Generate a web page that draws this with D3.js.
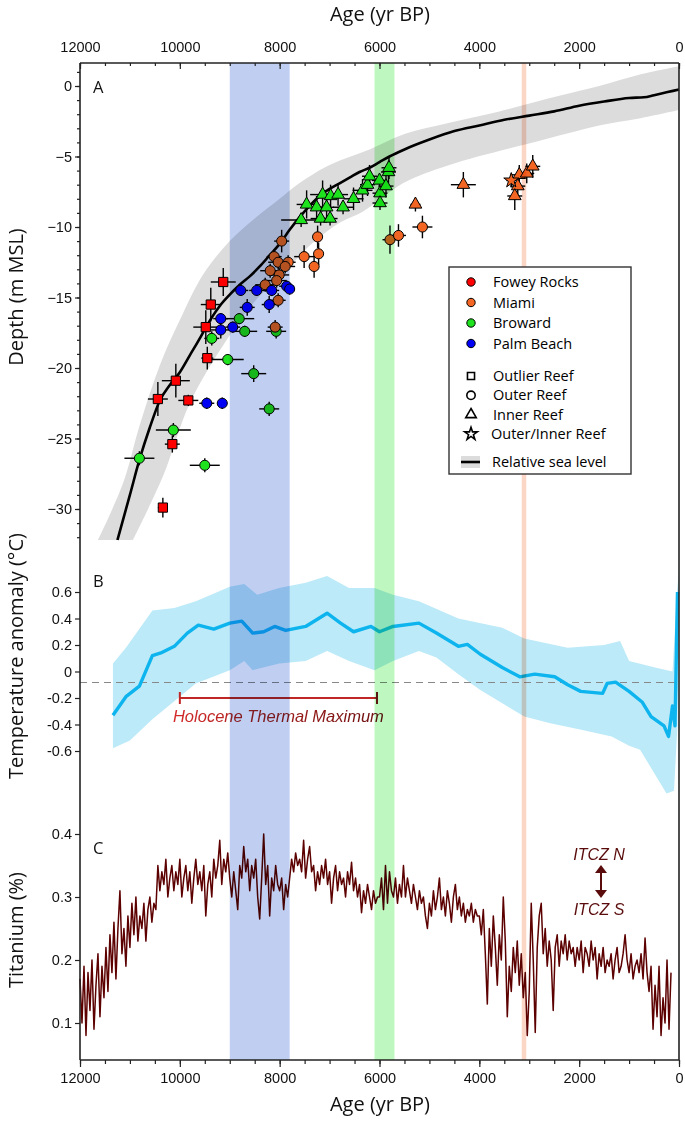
<!DOCTYPE html>
<html>
<head>
<meta charset="utf-8">
<script src="https://cdn.jsdelivr.net/npm/d3@7"></script>
<style>
  body { margin: 0; background: #fff; }
  svg { font-family: 'Open Sans', sans-serif; }
</style>
</head>
<body>
<div id="chart"></div>
<script>
// ---- data ----
// event bands (yr BP, older -> younger)
const eventBands = [[9000, 7800], [6100, 5700], [3150, 3060]];

// relative sea level curve [age, depth m]
const slCurve = [
  [11250, -32.2], [11000, -29.0], [10800, -26.4], [10600, -24.2], [10400, -22.3],
  [10200, -21.2], [10000, -20.3], [9800, -19.1], [9600, -17.9], [9476, -17.1],
  [9200, -15.6], [9000, -14.8], [8800, -14.1], [8600, -13.5], [8400, -12.8],
  [8200, -12.0], [8000, -11.2], [7800, -10.2], [7600, -9.3], [7400, -8.5],
  [7200, -7.8], [7000, -7.3], [6800, -6.9], [6600, -6.5], [6400, -6.1],
  [6200, -5.8], [6000, -5.4], [5800, -5.0], [5500, -4.5], [5000, -3.8],
  [4500, -3.2], [4000, -2.8], [3500, -2.4], [3000, -2.1], [2500, -1.8],
  [2000, -1.4], [1500, -1.1], [1000, -0.85], [700, -0.8], [500, -0.65],
  [250, -0.45], [0, -0.25],
];
// sea level uncertainty envelope edges [age, depth]
const slUpper = [
  [11640, -32.2], [11140, -28.2], [10800, -24.0], [10400, -19.8], [10000, -16.6],
  [9540, -13.4], [9000, -11.0], [8500, -9.4], [8000, -8.0], [7650, -7.0],
  [7000, -5.6], [6200, -4.5], [5500, -3.4], [4600, -2.6], [3600, -1.8],
  [2400, -0.7], [1600, 0.0], [800, 0.8], [0, 1.4],
];
const slLower = [
  [10940, -32.2], [10340, -27.7], [9800, -22.5], [9060, -18.0], [8530, -15.4],
  [7800, -12.8], [7330, -11.1], [6800, -9.7], [6330, -8.9], [5530, -6.9],
  [4600, -5.6], [2700, -3.8], [1600, -2.8], [800, -2.3], [0, -1.7],
];

// reef samples [age, depth, ageErr, depthErr]
const foweyOutlier = [
  [9130, -13.9, 250, 1.0], [9380, -15.5, 200, 1.2], [9480, -17.1, 250, 1.2],
  [9450, -19.3, 120, 0.8], [10080, -20.9, 280, 1.2], [10440, -22.2, 200, 1.2],
  [9830, -22.3, 200, 0.4], [10150, -25.4, 150, 0.6], [10340, -29.9, 100, 0.7],
];
const palmOuter = [
  [8780, -14.5, 150, 0.4], [8460, -14.5, 150, 0.4], [8160, -14.5, 150, 0.4],
  [7860, -14.2, 150, 0.4], [7800, -14.4, 100, 0.4], [8650, -15.7, 150, 0.6],
  [8210, -15.5, 150, 0.6], [9180, -16.5, 150, 0.4], [9180, -17.3, 200, 0.6],
  [8940, -17.1, 150, 0.4], [9460, -22.5, 150, 0.4], [9150, -22.5, 100, 0.4],
];
const browardOuter = [
  [8810, -16.5, 300, 0.4], [8700, -17.4, 250, 0.4], [9360, -17.9, 150, 0.5],
  [9040, -19.4, 320, 0.4], [8520, -20.4, 250, 0.6], [8070, -17.4, 200, 0.5],
  [8210, -22.9, 200, 0.5], [10130, -24.4, 350, 0.5], [10810, -26.4, 300, 0.5],
  [9500, -26.9, 300, 0.5],
];
const browardInner = [
  [7570, -9.5, 400, 0.5], [7460, -8.4, 200, 1.0], [7260, -8.6, 200, 0.8],
  [7180, -9.4, 200, 0.5], [6990, -9.4, 150, 0.5], [7140, -7.7, 250, 1.0],
  [7060, -8.6, 150, 0.8], [6980, -7.8, 200, 0.8], [6830, -7.7, 200, 0.8],
  [6730, -8.6, 200, 0.5], [6520, -8.0, 200, 0.8], [6340, -7.4, 200, 0.8],
  [6240, -7.0, 150, 0.8], [6200, -6.4, 150, 0.8], [6000, -6.7, 150, 0.5],
  [5990, -7.6, 150, 0.5], [5990, -8.3, 150, 0.5], [5870, -7.1, 150, 0.8],
  [5820, -6.1, 150, 0.8], [5810, -5.8, 150, 0.8],
];
const miamiOuter = [
  [7960, -11.0, 150, 0.8], [7240, -10.7, 100, 0.8], [8110, -12.1, 150, 0.5],
  [8030, -12.5, 200, 0.5], [7830, -12.5, 150, 0.5], [7510, -12.1, 200, 0.8],
  [7220, -11.9, 100, 0.8], [7310, -12.8, 100, 0.8], [8190, -13.1, 200, 0.5],
  [7890, -12.8, 200, 0.5], [8010, -13.4, 200, 0.5], [8060, -13.8, 200, 0.5],
  [8290, -14.1, 200, 0.5], [8030, -15.2, 150, 0.5], [8090, -17.1, 150, 0.5],
  [5790, -10.9, 150, 1.0], [5620, -10.6, 150, 0.8], [5140, -10.0, 200, 0.8],
];
const miamiInner = [
  [5280, -8.4, 100, 0.5], [4320, -7.0, 250, 0.9], [3200, -6.3, 150, 0.7],
  [3050, -6.2, 150, 0.7], [2930, -5.7, 150, 0.8], [3230, -7.1, 150, 0.7],
  [3290, -7.8, 150, 1.0],
];
const miamiOuterInner = [[3360, -6.7, 100, 0.5]];

// temperature anomaly [age, degC]
const tempMean = [
  [11340, -0.33], [11080, -0.19], [10810, -0.11], [10550, 0.12], [10380, 0.14],
  [10110, 0.19], [9850, 0.29], [9630, 0.35], [9320, 0.32], [9000, 0.365],
  [8760, 0.38], [8540, 0.29], [8320, 0.30], [8100, 0.34], [7880, 0.31],
  [7480, 0.34], [7050, 0.44], [6780, 0.365], [6520, 0.30], [6170, 0.34],
  [6000, 0.30], [5730, 0.34], [5210, 0.365], [4860, 0.29], [4420, 0.19],
  [4240, 0.205], [3980, 0.13], [3540, 0.03], [3190, -0.04], [2890, -0.02],
  [2490, -0.04], [2230, -0.10], [1970, -0.15], [1530, -0.165], [1440, -0.09],
  [1270, -0.08], [1000, -0.15], [740, -0.23], [560, -0.34], [300, -0.41],
  [210, -0.49], [130, -0.26], [80, -0.41], [30, 0.6],
];
const tempUpper = [
  [11340, 0.06], [11080, 0.18], [10550, 0.46], [10110, 0.48], [9680, 0.53],
  [9000, 0.64], [8710, 0.66], [8450, 0.58], [8010, 0.63], [7480, 0.67],
  [7050, 0.72], [6610, 0.63], [6100, 0.63], [5730, 0.58], [5210, 0.53],
  [4420, 0.40], [3540, 0.33], [3100, 0.25], [2230, 0.18], [1500, 0.20],
  [1180, 0.23], [1000, 0.08], [480, 0.03], [130, 0.0], [40, 0.6], [0, 0.77],
];
const tempLower = [
  [11340, -0.58], [11000, -0.52], [10550, -0.36], [10100, -0.22], [9680, -0.09],
  [9000, 0.01], [8710, 0.08], [8540, 0.01], [8010, 0.06], [7480, 0.08],
  [7050, 0.155], [6610, 0.08], [6100, 0.01], [5730, 0.08], [5210, 0.155],
  [4860, 0.105], [4420, -0.02], [3980, -0.14], [3540, -0.24], [3100, -0.34],
  [2580, -0.39], [1960, -0.44], [1350, -0.49], [1000, -0.56], [780, -0.59],
  [380, -0.84], [250, -0.92], [100, -0.9], [30, -0.4], [0, 0.55],
];
const tempRef = -0.083;            // dashed reference level
const htmSpan = [10000, 6050];      // Holocene Thermal Maximum

// titanium (%) sampled every 40 yr from 12000 yr BP
const tiStartAge = 12000;
const tiStep = 40;
const tiValues = [
  0.17, 0.10, 0.19, 0.08, 0.18, 0.12, 0.20, 0.09, 0.16, 0.21, 0.11, 0.19, 0.14, 0.22, 0.15, 0.24, 0.18, 0.26, 0.17, 0.25, 0.31, 0.21, 0.25, 0.19, 0.27,
  0.22, 0.29, 0.24, 0.30, 0.23, 0.27, 0.25, 0.29, 0.23, 0.28, 0.30, 0.26, 0.29, 0.28, 0.35, 0.31, 0.34, 0.32, 0.36, 0.30, 0.33, 0.35, 0.31, 0.34, 0.32,
  0.36, 0.30, 0.33, 0.35, 0.31, 0.34, 0.29, 0.33, 0.36, 0.32, 0.34, 0.31, 0.35, 0.27, 0.32, 0.34, 0.30, 0.36, 0.33, 0.35, 0.39, 0.32, 0.36, 0.34, 0.37,
  0.33, 0.30, 0.34, 0.31, 0.28, 0.35, 0.33, 0.38, 0.34, 0.36, 0.31, 0.35, 0.33, 0.36, 0.30, 0.265, 0.33, 0.40, 0.32, 0.35, 0.27, 0.33, 0.31, 0.35, 0.32,
  0.31, 0.33, 0.28, 0.32, 0.30, 0.33, 0.36, 0.34, 0.37, 0.35, 0.36, 0.34, 0.39, 0.33, 0.36, 0.38, 0.34, 0.35, 0.31, 0.34, 0.32, 0.35, 0.33, 0.36, 0.32,
  0.34, 0.29, 0.33, 0.35, 0.31, 0.34, 0.32, 0.33, 0.30, 0.34, 0.32, 0.355, 0.31, 0.33, 0.30, 0.32, 0.275, 0.31, 0.29, 0.32, 0.30, 0.28, 0.31, 0.29, 0.30,
  0.30, 0.33, 0.28, 0.35, 0.29, 0.34, 0.31, 0.30, 0.33, 0.29, 0.32, 0.30, 0.35, 0.30, 0.33, 0.31, 0.29, 0.32, 0.30, 0.28, 0.31, 0.29, 0.30, 0.27, 0.25,
  0.29, 0.27, 0.31, 0.28, 0.30, 0.33, 0.28, 0.30, 0.27, 0.31, 0.29, 0.26, 0.30, 0.32, 0.28, 0.30, 0.27, 0.29, 0.26, 0.28, 0.27, 0.29, 0.26, 0.28, 0.27,
  0.27, 0.24, 0.28, 0.21, 0.13, 0.25, 0.19, 0.27, 0.22, 0.16, 0.24, 0.20, 0.30, 0.23, 0.11, 0.19, 0.15, 0.22, 0.18, 0.23, 0.16, 0.21, 0.14, 0.18, 0.08,
  0.15, 0.29, 0.20, 0.085, 0.22, 0.27, 0.29, 0.21, 0.25, 0.19, 0.23, 0.20, 0.12, 0.22, 0.24, 0.19, 0.23, 0.21, 0.24, 0.20, 0.23, 0.21, 0.22, 0.19, 0.22,
  0.20, 0.23, 0.18, 0.22, 0.21, 0.19, 0.23, 0.20, 0.22, 0.17, 0.21, 0.19, 0.22, 0.18, 0.20, 0.19, 0.21, 0.17, 0.20, 0.22, 0.18, 0.19, 0.21, 0.24, 0.20,
  0.18, 0.21, 0.17, 0.19, 0.20, 0.18, 0.21, 0.17, 0.235, 0.18, 0.15, 0.19, 0.09, 0.16, 0.11, 0.19, 0.08, 0.14, 0.10, 0.20, 0.09, 0.18,
];

const ageTicks = [12000, 10000, 8000, 6000, 4000, 2000, 0];
const depthTicks = [0, -5, -10, -15, -20, -25, -30];
const tempTicks = [0.6, 0.4, 0.2, 0, -0.2, -0.4, -0.6];
const tiTicks = [0.4, 0.3, 0.2, 0.1];

// ---- layout ----
const width = 685;
const height = 1122;
const plotLeft = 80;
const plotRight = 679;
const plotTop = 63;
const plotBottom = 1060;

const colors = {
  fowey: '#ff0000',
  miami: '#f26522',
  broward: '#1ee21e',
  palm: '#0000f5',
  bands: ['#bfcef1', '#bff7c0', '#fbd5c5'],
  slBand: '#dcdcdc',
  tempBand: '#bdeaf8',
  tempLine: '#0db4ee',
  ti: '#5c0000',
};

const svg = d3.select('#chart').append('svg')
  .attr('width', width)
  .attr('height', height);

const x = d3.scaleLinear().domain([12000, 0]).range([plotLeft, plotRight]);
const yA = d3.scaleLinear().domain([0, -30]).range([86, 509]);
const yB = d3.scaleLinear().domain([0.6, -0.6]).range([592, 751]);
const yC = d3.scaleLinear().domain([0.4, 0.1]).range([834, 1023]);

// closed envelope from two edges
const envelope = (upper, lower, y, curve) => {
  const line = d3.line().x((d) => x(d[0])).y((d) => y(d[1])).curve(curve);
  const a = line(upper.slice().sort((p, q) => q[0] - p[0]));
  const b = line(lower.slice().sort((p, q) => p[0] - q[0]));
  return `${a}L${b.slice(1)}Z`;
};

// ---- panel A ----
const gA = svg.append('g');
gA.append('path')
  .attr('d', envelope(slUpper, slLower, yA, d3.curveCatmullRom))
  .attr('fill', colors.slBand);
gA.append('path')
  .attr('d', d3.line().x((d) => x(d[0])).y((d) => yA(d[1])).curve(d3.curveMonotoneX)(slCurve))
  .attr('fill', 'none')
  .attr('stroke', '#000')
  .attr('stroke-width', 2.6);

const groups = [
  { data: browardOuter, color: colors.broward, symbol: d3.symbolCircle, size: 80 },
  { data: browardInner, color: colors.broward, symbol: d3.symbolTriangle, size: 70 },
  { data: miamiOuter, color: colors.miami, symbol: d3.symbolCircle, size: 80 },
  { data: miamiInner, color: colors.miami, symbol: d3.symbolTriangle, size: 70 },
  { data: miamiOuterInner, color: colors.miami, symbol: d3.symbolStar, size: 70 },
  { data: palmOuter, color: colors.palm, symbol: d3.symbolCircle, size: 80 },
  { data: foweyOutlier, color: colors.fowey, symbol: d3.symbolSquare, size: 85 },
];

const errG = gA.append('g').attr('stroke', '#000').attr('stroke-width', 1.4);
groups.forEach((grp) => {
  errG.selectAll(null).data(grp.data).enter().append('line')
    .attr('x1', (d) => x(d[0] + d[2])).attr('x2', (d) => x(d[0] - d[2]))
    .attr('y1', (d) => yA(d[1])).attr('y2', (d) => yA(d[1]));
  errG.selectAll(null).data(grp.data).enter().append('line')
    .attr('x1', (d) => x(d[0])).attr('x2', (d) => x(d[0]))
    .attr('y1', (d) => yA(d[1] + d[3])).attr('y2', (d) => yA(d[1] - d[3]));
});
groups.forEach((grp) => {
  gA.selectAll(null).data(grp.data).enter().append('path')
    .attr('d', d3.symbol().type(grp.symbol).size(grp.size))
    .attr('transform', (d) => `translate(${x(d[0])},${yA(d[1])})`)
    .attr('fill', grp.color)
    .attr('stroke', '#000')
    .attr('stroke-width', 1);
});

// ---- panel B ----
const gB = svg.append('g');
gB.append('path')
  .attr('d', envelope(tempUpper, tempLower, yB, d3.curveLinear))
  .attr('fill', colors.tempBand);
gB.append('line')
  .attr('x1', plotLeft).attr('x2', plotRight)
  .attr('y1', yB(tempRef)).attr('y2', yB(tempRef))
  .attr('stroke', '#888')
  .attr('stroke-width', 1.2)
  .attr('stroke-dasharray', '7,5');
gB.append('path')
  .attr('d', d3.line().x((d) => x(d[0])).y((d) => yB(d[1]))(tempMean))
  .attr('fill', 'none')
  .attr('stroke', colors.tempLine)
  .attr('stroke-width', 3.4)
  .attr('stroke-linejoin', 'round');

const defs = svg.append('defs');
const grad = defs.append('linearGradient').attr('id', 'htm-grad');
grad.append('stop').attr('offset', '0%').attr('stop-color', '#d42a2a');
grad.append('stop').attr('offset', '100%').attr('stop-color', '#6e1212');

const htmY = yB(-0.2);
const htm = gB.append('g').attr('stroke', '#c02626').attr('stroke-width', 2);
htm.append('line')
  .attr('x1', x(htmSpan[0])).attr('x2', x(htmSpan[1]))
  .attr('y1', htmY).attr('y2', htmY);
htm.append('line')
  .attr('x1', x(htmSpan[0])).attr('x2', x(htmSpan[0]))
  .attr('y1', htmY - 6).attr('y2', htmY + 6);
htm.append('line')
  .attr('x1', x(htmSpan[1])).attr('x2', x(htmSpan[1]))
  .attr('y1', htmY - 6).attr('y2', htmY + 6)
  .attr('stroke', '#7a1616');
gB.append('text')
  .attr('x', (x(htmSpan[0]) + x(htmSpan[1])) / 2)
  .attr('y', htmY + 24)
  .attr('text-anchor', 'middle')
  .attr('font-family', 'Liberation Sans, Arial, sans-serif')
  .attr('font-style', 'italic')
  .attr('font-size', 16.5)
  .attr('fill', 'url(#htm-grad)')
  .text('Holocene Thermal Maximum');

// ---- panel C ----
const tiData = tiValues.map((v, i) => [tiStartAge - i * tiStep, v]);
const gC = svg.append('g');
gC.append('path')
  .attr('d', d3.line().x((d) => x(d[0])).y((d) => yC(d[1]))(tiData))
  .attr('fill', 'none')
  .attr('stroke', colors.ti)
  .attr('stroke-width', 1.5)
  .attr('stroke-linejoin', 'round');

const itcz = gC.append('g').attr('fill', '#5a0c0c')
  .attr('font-family', 'Liberation Sans, Arial, sans-serif')
  .attr('font-style', 'italic')
  .attr('font-size', 16)
  .attr('text-anchor', 'middle');
itcz.append('text').attr('x', 599).attr('y', 860).text('ITCZ N');
itcz.append('text').attr('x', 599).attr('y', 915).text('ITCZ S');
itcz.append('line')
  .attr('x1', 601).attr('x2', 601).attr('y1', 871).attr('y2', 892)
  .attr('stroke', '#5a0c0c').attr('stroke-width', 2);
itcz.append('path').attr('d', 'M595,873L601,865L607,873Z');
itcz.append('path').attr('d', 'M595,890L601,898L607,890Z');

// ---- event bands (multiply over everything) ----
svg.append('g')
  .selectAll('rect').data(eventBands).enter().append('rect')
  .attr('x', (d) => x(d[0]))
  .attr('width', (d) => x(d[1]) - x(d[0]))
  .attr('y', plotTop)
  .attr('height', plotBottom - plotTop)
  .attr('fill', (d, i) => colors.bands[i])
  .style('mix-blend-mode', 'multiply');

// ---- legend ----
const leg = svg.append('g').attr('transform', 'translate(449,267)');
leg.append('rect')
  .attr('width', 182).attr('height', 207)
  .attr('fill', '#fff').attr('stroke', '#333').attr('stroke-width', 1.4);
const siteRows = [
  ['Fowey Rocks', colors.fowey], ['Miami', colors.miami],
  ['Broward', colors.broward], ['Palm Beach', colors.palm],
];
siteRows.forEach((r, i) => {
  const yy = 15 + i * 20.5;
  leg.append('circle').attr('cx', 22).attr('cy', yy).attr('r', 4.2)
    .attr('fill', r[1]).attr('stroke', '#000').attr('stroke-width', 1);
  leg.append('text').attr('x', 44).attr('y', yy + 5).attr('font-size', 14.5).text(r[0]);
});
const shapeRows = [
  ['Outlier Reef', d3.symbolSquare, 50], ['Outer Reef', d3.symbolCircle, 55],
  ['Inner Reef', d3.symbolTriangle, 48], ['Outer/Inner Reef', d3.symbolStar, 50],
];
shapeRows.forEach((r, i) => {
  const yy = 109 + i * 19.3;
  leg.append('path').attr('d', d3.symbol().type(r[1]).size(r[2]))
    .attr('transform', `translate(22,${yy})`)
    .attr('fill', '#fff').attr('stroke', '#000').attr('stroke-width', 1.6);
  leg.append('text').attr('x', i === 3 ? 42 : 44).attr('y', yy + 5).attr('font-size', 14.5).text(r[0]);
});
leg.append('rect').attr('x', 12).attr('y', 189).attr('width', 19).attr('height', 12).attr('fill', colors.slBand);
leg.append('line').attr('x1', 12).attr('x2', 31).attr('y1', 195).attr('y2', 195)
  .attr('stroke', '#000').attr('stroke-width', 2.6);
leg.append('text').attr('x', 43).attr('y', 200).attr('font-size', 14.5).text('Relative sea level');

// ---- axes ----
const tickFont = (g) => g.selectAll('text').attr('font-size', 14.5).attr('fill', '#111');
const noDomain = (g) => g.select('.domain').remove();

svg.append('g').attr('transform', `translate(0,${plotTop})`)
  .call(d3.axisTop(x).tickValues(d3.range(0, 12001, 500)).tickSize(-3).tickFormat(''))
  .call(noDomain);
svg.append('g').attr('transform', `translate(0,${plotTop})`)
  .call(d3.axisTop(x).tickValues(ageTicks).tickSize(-6).tickPadding(11).tickFormat(d3.format('d')))
  .call(tickFont).call(noDomain);
svg.append('g').attr('transform', `translate(0,${plotBottom})`)
  .call(d3.axisBottom(x).tickValues(d3.range(0, 12001, 500)).tickSize(4).tickFormat(''))
  .call(noDomain);
svg.append('g').attr('transform', `translate(0,${plotBottom})`)
  .call(d3.axisBottom(x).tickValues(ageTicks).tickSize(7).tickPadding(6).tickFormat(d3.format('d')))
  .call(tickFont).call(noDomain);

svg.append('g').attr('transform', `translate(${plotLeft},0)`)
  .call(d3.axisLeft(yA).tickValues(d3.range(-32, 2, 1)).tickSize(3).tickFormat(''))
  .call(noDomain);
svg.append('g').attr('transform', `translate(${plotLeft},0)`)
  .call(d3.axisLeft(yA).tickValues(depthTicks).tickSize(5).tickPadding(3))
  .call(tickFont).call(noDomain);
svg.append('g').attr('transform', `translate(${plotLeft},0)`)
  .call(d3.axisLeft(yB).tickValues(tempTicks).tickSize(5).tickPadding(3).tickFormat((d) => (d === 0 ? '0' : d3.format('.1f')(d).replace('−', '-'))))
  .call(tickFont).call(noDomain);
svg.append('g').attr('transform', `translate(${plotLeft},0)`)
  .call(d3.axisLeft(yC).tickValues(tiTicks).tickSize(5).tickPadding(3).tickFormat(d3.format('.1f')))
  .call(tickFont).call(noDomain);
svg.selectAll('.tick line').attr('stroke', '#222').attr('stroke-width', 1.2);

// frame
const frame = svg.append('g').attr('stroke', '#222').attr('stroke-width', 1.6);
frame.append('line').attr('x1', plotLeft).attr('x2', plotRight).attr('y1', plotTop).attr('y2', plotTop);
frame.append('line').attr('x1', plotLeft).attr('x2', plotRight).attr('y1', plotBottom).attr('y2', plotBottom);
frame.append('line').attr('x1', plotLeft).attr('x2', plotLeft).attr('y1', plotTop).attr('y2', plotBottom);
frame.append('line').attr('x1', plotRight).attr('x2', plotRight).attr('y1', plotTop).attr('y2', plotBottom);

// titles and panel letters
const titles = svg.append('g').attr('font-size', 20).attr('fill', '#111');
titles.append('text').attr('x', 380).attr('y', 21).attr('text-anchor', 'middle').text('Age (yr BP)');
titles.append('text').attr('x', 380).attr('y', 1111).attr('text-anchor', 'middle').text('Age (yr BP)');
titles.append('text').attr('transform', 'translate(23,297) rotate(-90)').attr('text-anchor', 'middle').text('Depth (m MSL)');
titles.append('text').attr('transform', 'translate(23,656) rotate(-90)').attr('text-anchor', 'middle').text('Temperature anomaly (°C)');
titles.append('text').attr('transform', 'translate(23,930) rotate(-90)').attr('text-anchor', 'middle').text('Titanium (%)');

const letters = svg.append('g').attr('font-size', 16.5).attr('fill', '#111');
letters.append('text').attr('x', 93).attr('y', 93).text('A');
letters.append('text').attr('x', 93).attr('y', 587).text('B');
letters.append('text').attr('x', 93).attr('y', 854).text('C');
</script>
</body>
</html>
